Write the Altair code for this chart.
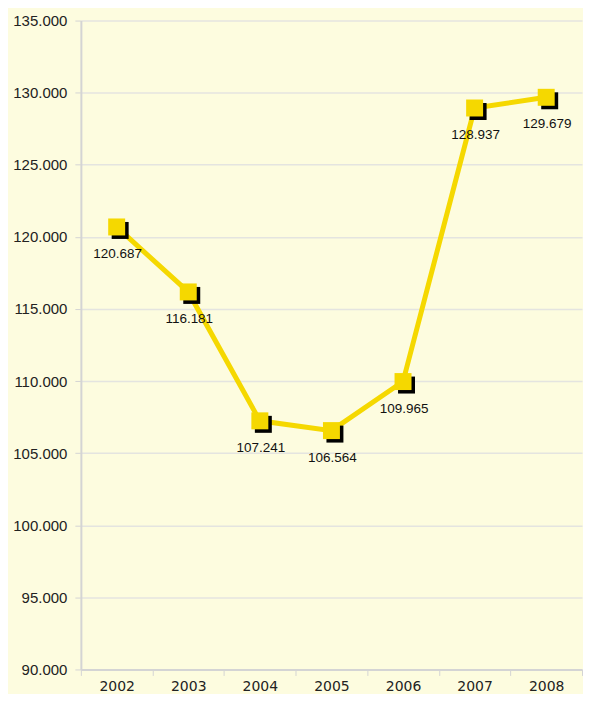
import altair as alt
import pandas as pd

years = ["2002", "2003", "2004", "2005", "2006", "2007", "2008"]
values = [120687, 116181, 107241, 106564, 109965, 128937, 129679]
labels = ["120.687", "116.181", "107.241", "106.564", "109.965", "128.937", "129.679"]

df = pd.DataFrame({"year": years, "value": values, "label": labels})

x = alt.X("year:N", sort=years, title=None,
          scale=alt.Scale(paddingInner=0, paddingOuter=0),
          axis=alt.Axis(labelAngle=0, labelFontSize=14, labelColor="#222222",
                        labelFont="DejaVu Sans", tickBand="extent",
                        tickColor="#D4D4D4", tickSize=6, labelPadding=4,
                        domainColor="#D4D4D4", domainWidth=2, grid=False))
y = alt.Y("value:Q", title=None,
          scale=alt.Scale(domain=[90000, 135000], nice=False, zero=False),
          axis=alt.Axis(values=list(range(90000, 135001, 5000)),
                        labelExpr="replace(format(datum.value, ',.0f'), ',', '.')",
                        labelFontSize=15, labelColor="#222222", labelFont="Liberation Sans",
                        tickColor="#D4D4D4", tickSize=6, labelPadding=8,
                        domainColor="#D4D4D4", domainWidth=2,
                        gridColor="#E4E4E0", gridWidth=1.5))

base = alt.Chart(df)

line = base.mark_line(color="#F5D800", strokeWidth=5).encode(x=x, y=y)
shadow = base.mark_point(shape="square", filled=True, color="#000000", size=289,
                         opacity=1, xOffset=3.5, yOffset=3.5).encode(x=x, y=y)
pts = base.mark_point(shape="square", filled=True, color="#F5D800", size=289,
                      opacity=1).encode(x=x, y=y)
text = base.mark_text(fontSize=13.5, font="Liberation Sans", color="#111111",
                      dy=27, dx=1).encode(x=x, y=y, text="label:N")

chart = alt.layer(line, shadow, pts, text).properties(
    width=502, height=650,
    background="#FDFCDF",
    padding={"left": 4, "top": 5, "right": 0, "bottom": 0},
).configure_view(stroke=None)

chart.save("out.html", embed_options={"renderer": "svg", "actions": False})
